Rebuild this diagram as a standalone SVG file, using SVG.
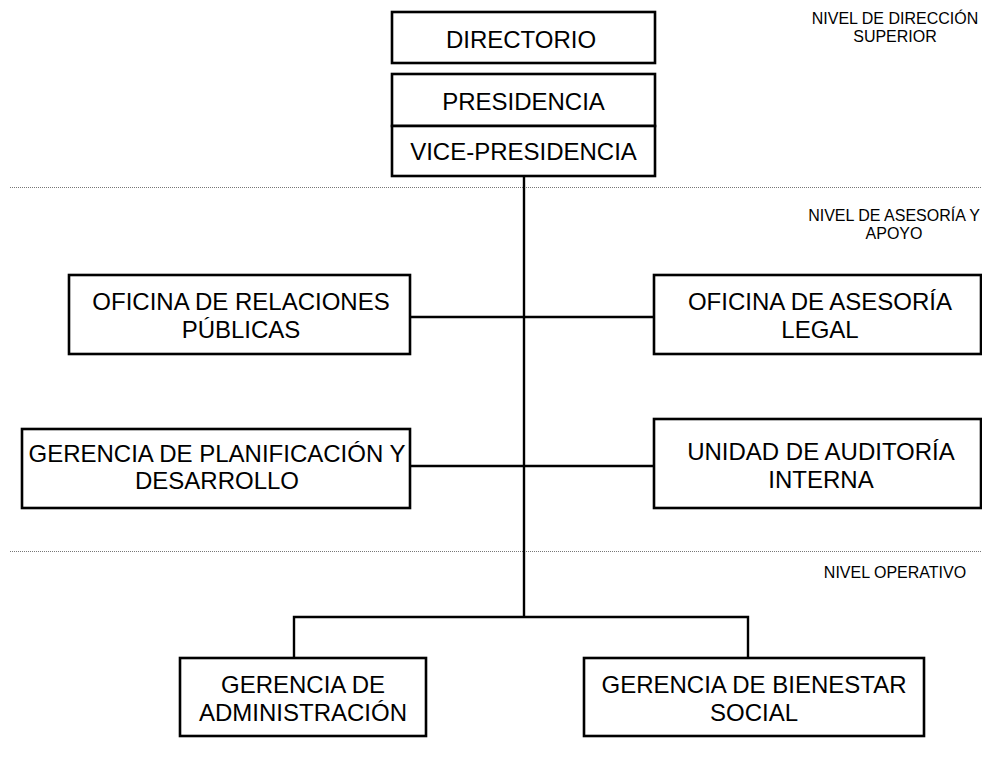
<svg xmlns="http://www.w3.org/2000/svg" width="982" height="762" viewBox="0 0 982 762">
<style>
.box{fill:#fff;stroke:#000;stroke-width:2.6}
.t{font-family:"Liberation Sans",Arial,sans-serif;font-size:24px;fill:#000;text-anchor:middle}
.s{font-family:"Liberation Sans",Arial,sans-serif;font-size:16px;fill:#000;text-anchor:middle}
.c{fill:none;stroke:#000;stroke-width:2.4}
.d{stroke:#777;stroke-width:1;stroke-dasharray:1 1}
</style>
<rect width="982" height="762" fill="#fff"/>
<g id="levels">
<line class="d" x1="10" y1="187.5" x2="982" y2="187.5"/>
<line class="d" x1="10" y1="551.5" x2="982" y2="551.5"/>
<text class="s" x="895" y="24">NIVEL DE DIRECCIÓN</text>
<text class="s" x="895" y="42">SUPERIOR</text>
<text class="s" x="894" y="221">NIVEL DE ASESORÍA Y</text>
<text class="s" x="894" y="239">APOYO</text>
<text class="s" x="895" y="578">NIVEL OPERATIVO</text>
</g>
<g id="connectors">
<path class="c" d="M524 176 V617"/>
<path class="c" d="M410 317 H654"/>
<path class="c" d="M410 466 H654"/>
<path class="c" d="M294 658 V617 H748 V658"/>
</g>
<g id="directorio">
<rect class="box" x="392" y="12" width="263" height="51"/>
<text class="t" x="521" y="48">DIRECTORIO</text>
</g>
<g id="presidencia">
<rect class="box" x="392" y="74" width="263" height="52"/>
<text class="t" x="523.5" y="110">PRESIDENCIA</text>
</g>
<g id="vicepresidencia">
<rect class="box" x="392" y="126" width="263" height="50"/>
<text class="t" x="523.5" y="160">VICE-PRESIDENCIA</text>
</g>
<g id="relaciones">
<rect class="box" x="69" y="275" width="341" height="79"/>
<text class="t" x="241" y="310">OFICINA DE RELACIONES</text>
<text class="t" x="241" y="338">PÚBLICAS</text>
</g>
<g id="asesoria">
<rect class="box" x="654" y="275" width="327" height="79"/>
<text class="t" x="820" y="310">OFICINA DE ASESORÍA</text>
<text class="t" x="820" y="338">LEGAL</text>
</g>
<g id="planificacion">
<rect class="box" x="22" y="429" width="388" height="79"/>
<text class="t" x="217" y="462">GERENCIA DE PLANIFICACIÓN Y</text>
<text class="t" x="217" y="489">DESARROLLO</text>
</g>
<g id="auditoria">
<rect class="box" x="654" y="419" width="327" height="89"/>
<text class="t" x="821" y="460">UNIDAD DE AUDITORÍA</text>
<text class="t" x="821" y="488">INTERNA</text>
</g>
<g id="administracion">
<rect class="box" x="180" y="658" width="246" height="78"/>
<text class="t" x="303" y="693">GERENCIA DE</text>
<text class="t" x="303" y="721">ADMINISTRACIÓN</text>
</g>
<g id="bienestar">
<rect class="box" x="584" y="658" width="340" height="78"/>
<text class="t" x="754" y="693">GERENCIA DE BIENESTAR</text>
<text class="t" x="754" y="721">SOCIAL</text>
</g>
</svg>
